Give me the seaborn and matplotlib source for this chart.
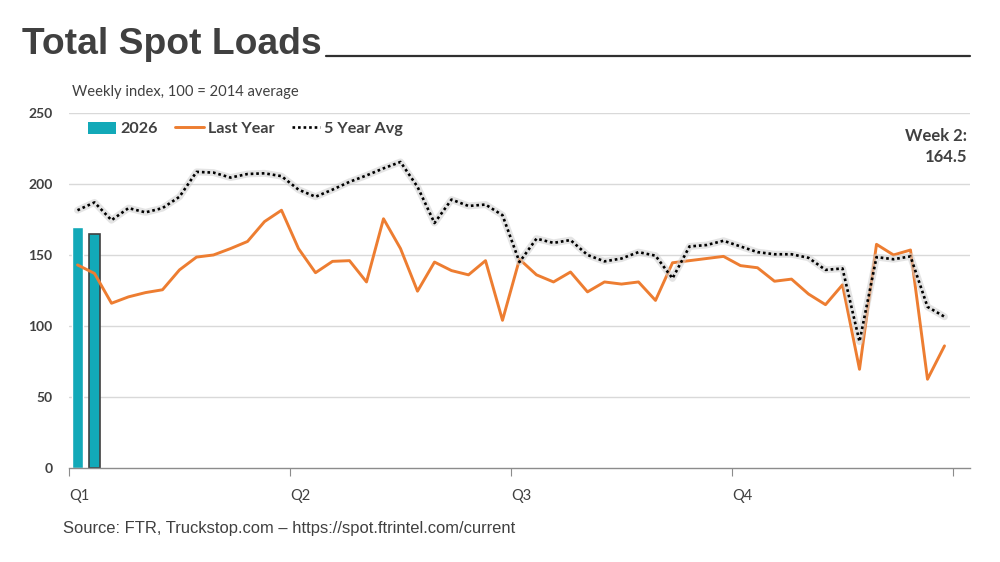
import numpy as np
import pandas as pd
import matplotlib.pyplot as plt
from matplotlib.lines import Line2D
from matplotlib.patches import Patch
import seaborn as sns

# DATA (weekly index, 100 = 2014 average)
weeks = list(range(1, 53))
weeks_2026 = [1, 2]
loads_2026 = [169.5, 164.5]
last_year = [143, 137, 116, 120.5, 123.5, 125.5, 139.5, 148.5, 150, 154.5,
             159.5, 173.5, 181.5, 154.5, 137.5, 145.5, 146, 131, 175.5, 154.5,
             124.5, 145, 139, 136, 146, 104, 147, 136, 131, 138,
             124, 131, 129.5, 131, 118, 144.5, 146, 147.5, 149, 142.5,
             141, 131.5, 133, 122.5, 115, 129, 69.5, 157.5, 150, 153.5,
             62.5, 86]
five_year_avg = [181.5, 187, 174.5, 183, 180, 183, 191, 208.5, 208, 204.5,
                 207, 207.5, 205.5, 196, 191, 196, 201.5, 206, 211, 215.5,
                 198, 172.5, 189, 184.5, 185.5, 178, 145, 161.5, 158.5, 160.5,
                 150, 145.5, 147.5, 152, 149.5, 133.5, 156, 157, 160, 156,
                 152, 150.5, 150.5, 148, 139.5, 140.5, 89, 148.5, 147, 149,
                 113.5, 106.5]
quarter_labels = ['Q1', 'Q2', 'Q3', 'Q4', '']
quarter_ticks = [0.5, 13.5, 26.5, 39.5, 52.5]

# STYLE
sns.set_style("white")
plt.rcParams['font.family'] = ['Lato', 'DejaVu Sans']
TEAL = '#12a9b8'
ORANGE = '#ed7d31'
DARK = '#404040'
GRID = '#d9d9d9'

df_lines = pd.DataFrame({'week': weeks, 'last_year': last_year, 'five_year': five_year_avg})
df_bars = pd.DataFrame({'week': weeks_2026, 'loads': loads_2026})

fig = plt.figure(figsize=(10, 5.62), dpi=100)
ax = fig.add_axes([0.069, 0.1673, 0.901, 0.6317])

# bars for the current year
sns.barplot(data=df_bars, x='week', y='loads', native_scale=True, width=0.7,
            color=TEAL, saturation=1, ax=ax, zorder=2)
ax.patches[1].set_edgecolor(DARK)
ax.patches[1].set_linewidth(1.2)

# last year line
sns.lineplot(data=df_lines, x='week', y='last_year', color=ORANGE, lw=2.1, ax=ax, zorder=3)

# 5 year average: soft glow then dotted line
sns.lineplot(data=df_lines, x='week', y='five_year', color='#cfcfcf', lw=5, alpha=0.55,
             ax=ax, zorder=3)
sns.lineplot(data=df_lines, x='week', y='five_year', color='black', lw=1.9,
             linestyle=(0, (1, 1.1)), ax=ax, zorder=4)

ax.set_xlim(0.5, 53.5)
ax.set_ylim(0, 250)
ax.set_xlabel('')
ax.set_ylabel('')

# grid
ax.set_yticks([0, 50, 100, 150, 200, 250])
for yv in [50, 100, 150, 200, 250]:
    ax.axhline(yv, color=GRID, lw=1, zorder=0)
ax.tick_params(axis='y', left=False, length=0, pad=12, labelsize=10, labelcolor=DARK)
for lbl in ax.get_yticklabels():
    lbl.set_fontweight('bold')

ax.set_xticks(quarter_ticks)
ax.set_xticklabels(quarter_labels, ha='left')
ax.tick_params(axis='x', bottom=True, direction='out', length=6, width=0.8,
               color='#8c8c8c', pad=9, labelsize=10.5, labelcolor=DARK)

for side in ['top', 'right', 'left']:
    ax.spines[side].set_visible(False)
ax.spines['bottom'].set_color('#8c8c8c')
ax.spines['bottom'].set_linewidth(1)

# legend
handles = [Patch(facecolor=TEAL, edgecolor='none'),
           Line2D([0], [0], color=ORANGE, lw=2.1),
           Line2D([0], [0], color='black', lw=1.9, linestyle=(0, (1, 1.1)))]
leg = ax.legend(handles, ['2026', 'Last Year', '5 Year Avg'], ncol=3, frameon=False,
                loc='center left', bbox_to_anchor=(0.021, 0.955), borderaxespad=0,
                borderpad=0, handlelength=1.75, handleheight=0.8, handletextpad=0.25,
                columnspacing=1.1, prop={'weight': 'bold', 'size': 11.6})
for t in leg.get_texts():
    t.set_color(DARK)

# annotation
ax.text(0.997, 0.958, 'Week 2:\n164.5', transform=ax.transAxes, ha='right', va='top',
        fontsize=12, fontweight='bold', color=DARK, linespacing=1.4)

# title, subtitle, source
fig.text(0.022, 1 - 44 / 562, 'Total Spot Loads', family=['Liberation Sans', 'DejaVu Sans'],
         fontsize=26.8, fontweight='bold', color=DARK, va='center', ha='left')
fig.add_artist(Line2D([0.326, 0.970], [1 - 56 / 562] * 2, color='#303030', lw=1.6))
fig.text(0.072, 1 - 92 / 562, 'Weekly index, 100 = 2014 average', fontsize=10.6,
         color=DARK, va='center', ha='left')
fig.text(0.063, 1 - 528 / 562, 'Source: FTR, Truckstop.com \u2013 https://spot.ftrintel.com/current',
         family=['Liberation Sans', 'DejaVu Sans'], fontsize=11.9, color=DARK,
         va='center', ha='left')

fig.savefig('out.png', dpi=100)
